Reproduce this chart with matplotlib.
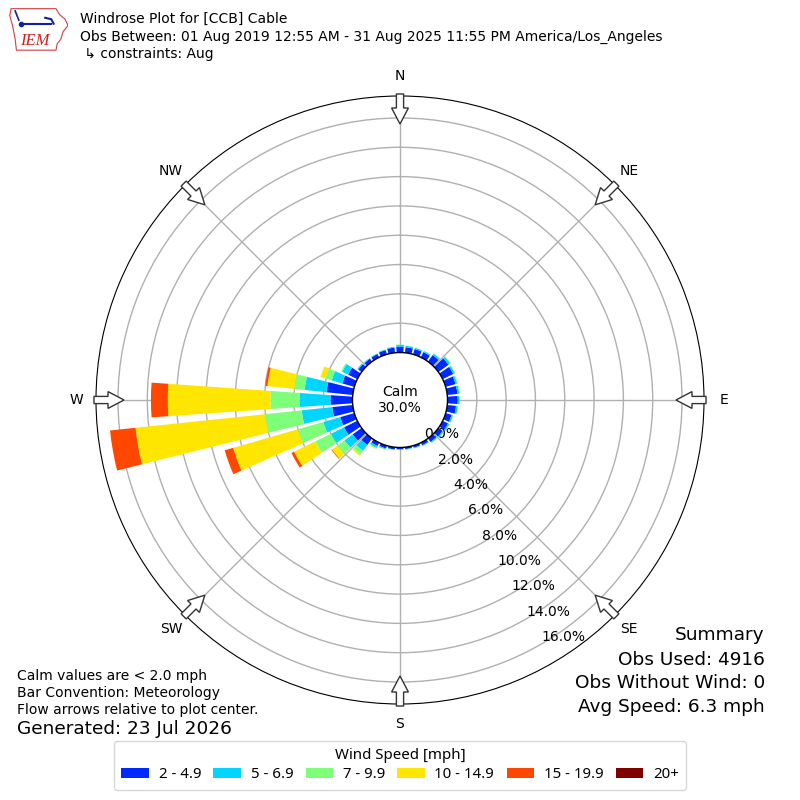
import numpy as np
import matplotlib
matplotlib.use("Agg")
import matplotlib.pyplot as plt
from matplotlib.patches import FancyArrow, Polygon


# direction bins (degrees, meteorological) and share of obs per speed bin [%]
directions = list(range(0, 360, 10))
speed_labels = ["2 - 4.9", "5 - 6.9", "7 - 9.9", "10 - 14.9", "15 - 19.9", "20+"]

spd_2_5 = [0.40, 0.38, 0.38, 0.40, 0.55, 0.85, 0.80, 0.70, 0.70, 0.70, 0.60, 0.42,
           0.40, 0.35, 0.30, 0.20, 0.15, 0.13, 0.12, 0.15, 0.20, 0.25, 0.55, 0.75,
           1.00, 1.00, 1.40, 1.50, 1.80, 0.86, 0.70, 0.28, 0.25, 0.25, 0.30, 0.35]
spd_5_7 = [0.12, 0.10, 0.08, 0.08, 0.12, 0.15, 0.12, 0.12, 0.12, 0.12, 0.12, 0.10,
           0.10, 0.08, 0.08, 0.05, 0.04, 0.03, 0.03, 0.03, 0.06, 0.15, 0.50, 0.70,
           1.00, 1.20, 2.10, 2.10, 1.50, 0.74, 0.45, 0.08, 0.05, 0.05, 0.05, 0.06]
spd_7_10 = [0.02, 0.02, 0.02, 0.02, 0.03, 0.05, 0.04, 0.05, 0.06, 0.03, 0.03, 0.02,
            0.02, 0.02, 0.02, 0.01, 0.00, 0.00, 0.00, 0.00, 0.03, 0.06, 0.30, 0.60,
            1.20, 1.80, 2.50, 2.00, 0.70, 0.45, 0.08, 0.00, 0.00, 0.00, 0.00, 0.00]
spd_10_15 = [0.00, 0.00, 0.00, 0.00, 0.00, 0.00, 0.01, 0.02, 0.03, 0.00, 0.00, 0.00,
             0.00, 0.00, 0.00, 0.00, 0.00, 0.00, 0.00, 0.00, 0.02, 0.03, 0.10, 0.45,
             1.60, 4.60, 8.90, 7.00, 1.85, 0.35, 0.00, 0.00, 0.00, 0.00, 0.00, 0.00]
spd_15_20 = [0.00, 0.00, 0.00, 0.00, 0.00, 0.00, 0.00, 0.00, 0.00, 0.00, 0.00, 0.00,
             0.00, 0.00, 0.00, 0.00, 0.00, 0.00, 0.00, 0.00, 0.00, 0.00, 0.00, 0.05,
             0.20, 0.60, 1.75, 1.15, 0.15, 0.00, 0.00, 0.00, 0.00, 0.00, 0.00, 0.00]
spd_20_up = [0.0] * 36

calm_pct = 30.0
rticks = [0, 2, 4, 6, 8, 10, 12, 14, 16]
compass = ["N", "NE", "E", "SE", "S", "SW", "W", "NW"]

series = [spd_2_5, spd_5_7, spd_7_10, spd_10_15, spd_15_20, spd_20_up]
cmap = plt.get_cmap("jet")
colors = [cmap((i + 1) / 6.0) for i in range(6)]

fig = plt.figure(figsize=(8, 8), dpi=100)
ax = fig.add_axes([0.12, 0.12, 0.76, 0.76], projection="polar")
ax.set_theta_zero_location("N")
ax.set_theta_direction(-1)

theta = np.deg2rad(directions)
bottom = np.zeros(len(directions))
for vals, lab, col in zip(series, speed_labels, colors):
    vals = np.array(vals)
    ax.bar(theta, vals, width=np.deg2rad(8), bottom=bottom, color=col,
           label=lab, linewidth=0, zorder=2)
    bottom = bottom + vals

ax.set_rorigin(-3.24)
ax.set_ylim(0, 17.5)
ax.set_yticks(rticks)
ax.set_yticklabels(["%.1f%%" % r for r in rticks], fontsize=10)
ax.set_rlabel_position(150)
ax.set_xticks(np.deg2rad(np.arange(0, 360, 45)))
ax.set_xticklabels([])
ax.grid(True, color="#b0b0b0", linewidth=1)
ax.spines["polar"].set_color("black")
ax.spines["inner"].set_color("black")
ax.spines["inner"].set_linewidth(1)

fig.text(0.5, 0.5, "Calm\n%.1f%%" % calm_pct, ha="center", va="center", fontsize=10)

# compass labels and flow arrows
for i, lab in enumerate(compass):
    a = np.deg2rad(i * 45)
    fig.text(0.5 + 0.405 * np.sin(a), 0.5 + 0.405 * np.cos(a), lab,
             ha="center", va="center", fontsize=10)
    r1, r2 = 0.3825, 0.345
    x0, y0 = 0.5 + r1 * np.sin(a), 0.5 + r1 * np.cos(a)
    dx, dy = (r2 - r1) * np.sin(a), (r2 - r1) * np.cos(a)
    arr = FancyArrow(x0, y0, dx, dy, width=0.009, head_width=0.021,
                     head_length=0.02, length_includes_head=True,
                     facecolor="white", edgecolor="#333333", linewidth=1,
                     transform=fig.transFigure, zorder=5)
    fig.add_artist(arr)

# header
fig.text(0.1, 0.97625, "Windrose Plot for [CCB] Cable", fontsize=10, va="center")
fig.text(0.1, 0.95375, "Obs Between: 01 Aug 2019 12:55 AM - 31 Aug 2025 11:55 PM America/Los_Angeles",
         fontsize=10, va="center")
fig.text(0.1, 0.9325, " \u21b3 constraints: Aug", fontsize=10, va="center")

# rough logo
lax = fig.add_axes([0.01, 0.935, 0.075, 0.057])
lax.set_xlim(0, 1)
lax.set_ylim(0, 1)
lax.axis("off")
iowa = [(0.05, 0.95), (0.80, 0.95), (0.86, 0.82), (0.95, 0.72), (1.0, 0.58),
        (0.92, 0.45), (0.88, 0.28), (0.82, 0.18), (0.80, 0.04), (0.14, 0.04),
        (0.12, 0.28), (0.08, 0.55), (0.03, 0.80)]
lax.add_patch(Polygon(iowa, closed=True, fill=False, edgecolor="#d04040", linewidth=0.8))
lax.plot([0.22, 0.72], [0.62, 0.62], color="#1020a0", linewidth=1.5)
lax.plot([0.22], [0.62], "o", color="#1020a0", markersize=3)
lax.plot([0.62, 0.72, 0.76], [0.75, 0.72, 0.62], color="#1020a0", linewidth=1.5)
lax.plot([0.12, 0.18], [0.9, 0.7], color="#1020a0", linewidth=1.2)
lax.text(0.45, 0.25, "IEM", color="#d02020", fontsize=12, style="italic",
         family="Liberation Serif", ha="center", va="center")

# footer notes
fig.text(0.021, 0.155, "Calm values are < 2.0 mph", fontsize=10, va="center")
fig.text(0.021, 0.13375, "Bar Convention: Meteorology", fontsize=10, va="center")
fig.text(0.021, 0.1125, "Flow arrows relative to plot center.", fontsize=10, va="center")
fig.text(0.021, 0.08875, "Generated: 23 Jul 2026", fontsize=13.3, va="center")

fig.text(0.956, 0.20625, "Summary", fontsize=13.3, ha="right", va="center")
fig.text(0.956, 0.175, "Obs Used: 4916", fontsize=13.3, ha="right", va="center")
fig.text(0.956, 0.14625, "Obs Without Wind: 0", fontsize=13.3, ha="right", va="center")
fig.text(0.956, 0.1166, "Avg Speed: 6.3 mph", fontsize=13.3, ha="right", va="center")

handles, labels = ax.get_legend_handles_labels()
fig.legend(handles, labels, loc="lower center", bbox_to_anchor=(0.5, 0.0125),
           ncol=6, title="Wind Speed [mph]",
           prop={"family": "Noto Sans", "size": 10.8},
           title_fontproperties={"family": "Noto Sans", "size": 10.8},
           handlelength=1.84, handleheight=0.65, columnspacing=0.82,
           handletextpad=0.64, borderaxespad=0, borderpad=0.5,
           labelspacing=0.3)

fig.savefig("out.png", dpi=100)
